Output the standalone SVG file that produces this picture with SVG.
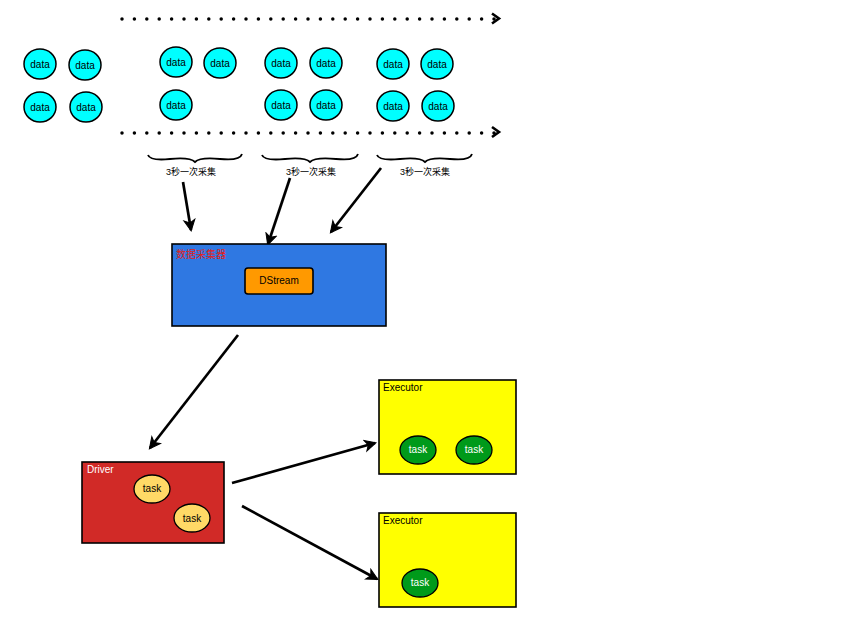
<svg xmlns="http://www.w3.org/2000/svg" width="866" height="637" viewBox="0 0 866 637">
<defs>
<marker id="head" markerWidth="14" markerHeight="14" refX="11" refY="7" orient="auto" markerUnits="userSpaceOnUse">
<path d="M1,1.5 L12,7 L1,12.5 L4,7 Z" fill="#000" stroke="#000" stroke-width="1"/>
</marker>
<style>
text{font-family:"Liberation Sans","Noto Sans CJK SC",sans-serif;font-size:10px;fill:#000}
.data{fill:#00ffff;stroke:#000;stroke-width:1.5}
.dot{fill:none;stroke:#000;stroke-width:3.5;stroke-linecap:round;stroke-dasharray:0 12.4}
.arr{fill:none;stroke:#000;stroke-width:2.7}
.brace{fill:none;stroke:#000;stroke-width:1.8}
.box{stroke:#000;stroke-width:1.6}
.tk{fill:#ffd966;stroke:#000;stroke-width:1.3}
.gt{fill:#009a1a;stroke:#000;stroke-width:1.3}
.c{text-anchor:middle}
</style>
</defs>
<g id="connectors">
<path class="dot" d="M122,19 L494,19"/>
<path d="M492,13.5 L499,18.5 L492,23.5" fill="none" stroke="#000" stroke-width="2.6"/>
<path class="dot" d="M122,133 L494,133"/>
<path d="M492,127 L499,132 L492,137" fill="none" stroke="#000" stroke-width="2.6"/>
<path class="arr" d="M183,182 L191,230" marker-end="url(#head)"/>
<path class="arr" d="M290,178 L268,244" marker-end="url(#head)"/>
<path class="arr" d="M381,168 L331,232" marker-end="url(#head)"/>
<path class="arr" d="M238,335 L150,448" marker-end="url(#head)"/>
<path class="arr" d="M232,483 L375,443" marker-end="url(#head)"/>
<path class="arr" d="M242,506 L377,579" marker-end="url(#head)"/>
</g>
<g id="data-group-1">
<ellipse class="data" cx="40" cy="64" rx="16" ry="15"/><text class="c" x="40" y="68">data</text>
<ellipse class="data" cx="85" cy="65" rx="16" ry="15"/><text class="c" x="85" y="69">data</text>
<ellipse class="data" cx="40" cy="107" rx="16" ry="15"/><text class="c" x="40" y="111">data</text>
<ellipse class="data" cx="86" cy="107" rx="16" ry="15"/><text class="c" x="86" y="111">data</text>
</g>
<g id="data-group-2">
<ellipse class="data" cx="176" cy="62" rx="16" ry="15"/><text class="c" x="176" y="66">data</text>
<ellipse class="data" cx="220" cy="63" rx="16" ry="15"/><text class="c" x="220" y="67">data</text>
<ellipse class="data" cx="176" cy="105" rx="16" ry="15"/><text class="c" x="176" y="109">data</text>
</g>
<g id="data-group-3">
<ellipse class="data" cx="281" cy="63" rx="16" ry="15"/><text class="c" x="281" y="67">data</text>
<ellipse class="data" cx="326" cy="63" rx="16" ry="15"/><text class="c" x="326" y="67">data</text>
<ellipse class="data" cx="281" cy="105" rx="16" ry="15"/><text class="c" x="281" y="109">data</text>
<ellipse class="data" cx="326" cy="105" rx="16" ry="15"/><text class="c" x="326" y="109">data</text>
</g>
<g id="data-group-4">
<ellipse class="data" cx="393" cy="64" rx="16" ry="15"/><text class="c" x="393" y="68">data</text>
<ellipse class="data" cx="437" cy="64" rx="16" ry="15"/><text class="c" x="437" y="68">data</text>
<ellipse class="data" cx="393" cy="106" rx="16" ry="15"/><text class="c" x="393" y="110">data</text>
<ellipse class="data" cx="438" cy="106" rx="16" ry="15"/><text class="c" x="438" y="110">data</text>
</g>
<g id="brace-1">
<path class="brace" d="M148,155 Q150,161 170,159 Q190,157 195,162 Q200,157 220,159 Q240,161 242,154"/>
<text class="c" x="191" y="175" style="font-size:9px">3秒一次采集</text>
</g>
<g id="brace-2">
<path class="brace" d="M262,155 Q264,161 285,159 Q305,157 310,162 Q315,157 336,159 Q356,161 358,154"/>
<text class="c" x="311" y="175" style="font-size:9px">3秒一次采集</text>
</g>
<g id="brace-3">
<path class="brace" d="M377,155 Q379,161 400,159 Q420,157 425,162 Q430,157 450,159 Q470,161 472,154"/>
<text class="c" x="425" y="175" style="font-size:9px">3秒一次采集</text>
</g>
<g id="collector">
<rect class="box" x="172" y="244" width="214" height="82" fill="#2f78e2"/>
<text x="176" y="258" style="fill:#e02020">数据采集器</text>
</g>
<g id="dstream">
<rect class="box" x="245" y="268" width="68" height="26" rx="3" fill="#ff9900"/>
<text class="c" x="279" y="284">DStream</text>
</g>
<g id="driver">
<rect class="box" x="82" y="462" width="142" height="81" fill="#d12a27"/>
<text x="87" y="473" style="fill:#fff">Driver</text>
<ellipse class="tk" cx="152" cy="489" rx="18" ry="14"/><text class="c" x="152" y="492">task</text>
<ellipse class="tk" cx="192" cy="518" rx="18" ry="14"/><text class="c" x="192" y="522">task</text>
</g>
<g id="executor-1">
<rect class="box" x="379" y="380" width="137" height="94" fill="#ffff00"/>
<text x="383" y="391">Executor</text>
<ellipse class="gt" cx="418" cy="450" rx="18" ry="14"/><text class="c" x="418" y="453" style="fill:#fff">task</text>
<ellipse class="gt" cx="474" cy="450" rx="18" ry="14"/><text class="c" x="474" y="453" style="fill:#fff">task</text>
</g>
<g id="executor-2">
<rect class="box" x="379" y="513" width="137" height="94" fill="#ffff00"/>
<text x="383" y="524">Executor</text>
<ellipse class="gt" cx="420" cy="583" rx="18" ry="14"/><text class="c" x="420" y="586" style="fill:#fff">task</text>
</g>
</svg>
